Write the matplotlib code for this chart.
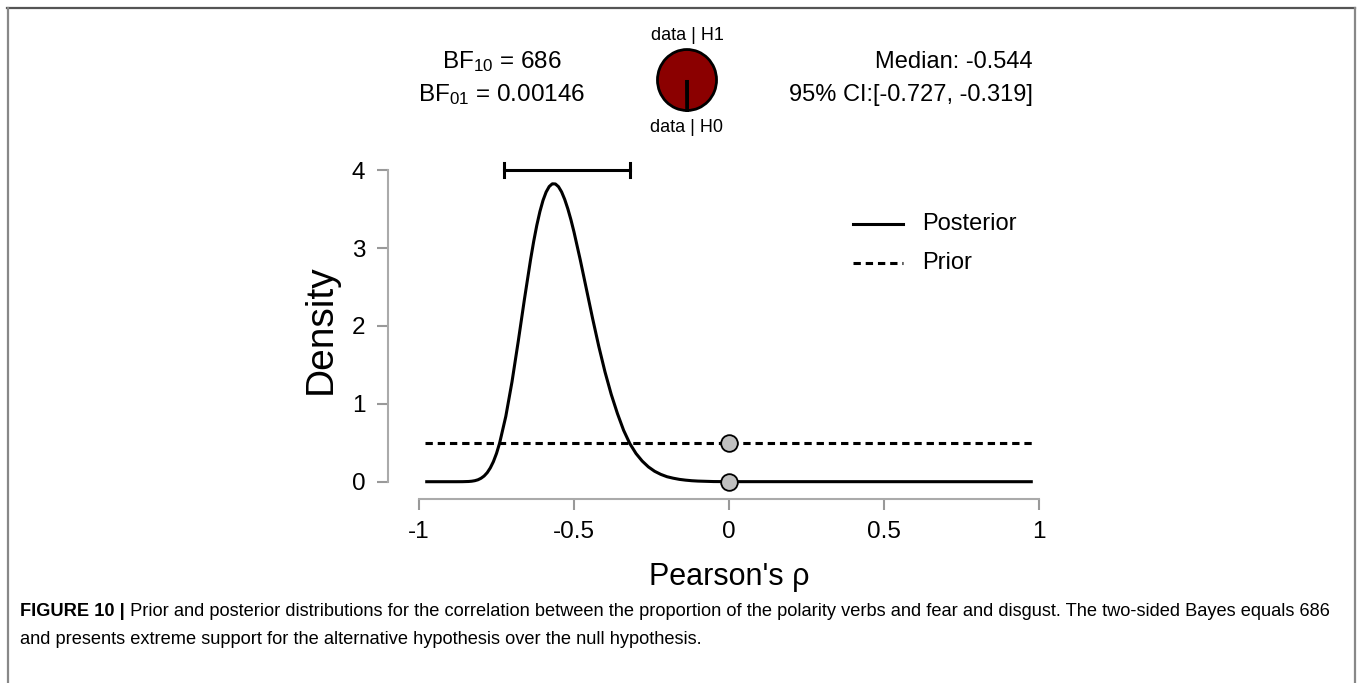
import matplotlib
matplotlib.use("Agg")
import matplotlib.pyplot as plt
from matplotlib.lines import Line2D

plt.rcParams['font.family'] = ['Liberation Sans', 'DejaVu Sans']
plt.rcParams['mathtext.fontset'] = 'custom'
plt.rcParams['mathtext.rm'] = 'Liberation Sans'
plt.rcParams['mathtext.it'] = 'Liberation Sans'
plt.rcParams['mathtext.bf'] = 'Liberation Sans:bold'

# ---------------- data ----------------
post_x = [-0.98, -0.95, -0.90, -0.88, -0.86, -0.84, -0.83, -0.82, -0.81, -0.80,
          -0.79, -0.78, -0.77, -0.76, -0.75, -0.74, -0.72, -0.70,
          -0.68, -0.66, -0.64, -0.63, -0.62, -0.61, -0.60, -0.59, -0.58, -0.57,
          -0.56, -0.55, -0.54, -0.53, -0.52, -0.51, -0.50, -0.48, -0.46, -0.44,
          -0.42, -0.40, -0.38, -0.36, -0.34, -0.32, -0.30, -0.28, -0.26, -0.24,
          -0.22, -0.20, -0.18, -0.16, -0.14, -0.12, -0.10, -0.05, 0.00, 0.98]
post_y = [0.0, 0.0, 0.0, 0.0, 0.0004, 0.0028, 0.0063, 0.013, 0.0245, 0.044,
          0.073, 0.116, 0.177, 0.258, 0.363, 0.495, 0.839, 1.283,
          1.799, 2.340, 2.854, 3.086, 3.292, 3.468, 3.611, 3.718, 3.789, 3.824,
          3.822, 3.787, 3.720, 3.624, 3.504, 3.364, 3.205, 2.851, 2.473, 2.095,
          1.736, 1.409, 1.122, 0.876, 0.660, 0.490, 0.362, 0.265, 0.190, 0.134,
          0.094, 0.064, 0.045, 0.030, 0.020, 0.0126, 0.008, 0.002, 0.0007, 0.0]
prior_x = [-0.98, 0.98]
prior_y = [0.5, 0.5]
point_x = [0.0, 0.0]
point_y = [0.5, 0.0007]
ci_low, ci_high, ci_y = -0.727, -0.319, 4.0
bf10, bf01 = 686, 0.00146
median = -0.544
x_ticks = [-1, -0.5, 0, 0.5, 1]
x_ticklabels = ['-1', '-0.5', '0', '0.5', '1']
y_ticks = [0, 1, 2, 3, 4]
legend_labels = ['Posterior', 'Prior']

W, H = 1358, 683
fig = plt.figure(figsize=(W / 100, H / 100), dpi=100)

def fx(px):
    return px / W

def fy(py):
    return 1 - py / H

# ---------------- frame ----------------
fig.add_artist(Line2D([fx(7), fx(1355)], [fy(8), fy(8)], color='#555555', lw=1.6))
fig.add_artist(Line2D([fx(7.5), fx(7.5)], [fy(8), fy(690)], color='#888888', lw=1.6))
fig.add_artist(Line2D([fx(1354.5), fx(1354.5)], [fy(8), fy(690)], color='#888888', lw=1.6))

# ---------------- main axes ----------------
xl = (-1.101, 1.10)
yl = (-0.222, 4.2)
left_px, right_px = 387.7, 729 + 310 * xl[1]
bottom_px = 499.0
top_px = 481.7 - 77.9 * yl[1]
ax = fig.add_axes([fx(left_px), fy(bottom_px), (right_px - left_px) / W, (bottom_px - top_px) / H])
ax.set_xlim(*xl)
ax.set_ylim(*yl)
ax.patch.set_alpha(0)
for s in ['top', 'right']:
    ax.spines[s].set_visible(False)
ax.spines['left'].set_bounds(0, 4)
ax.spines['bottom'].set_bounds(-1, 1)
for s in ['left', 'bottom']:
    ax.spines[s].set_color('#aaaaaa')
    ax.spines[s].set_linewidth(1.5)
ax.set_xticks(x_ticks)
ax.set_xticklabels(x_ticklabels)
ax.set_yticks(y_ticks)
ax.tick_params(axis='both', direction='out', length=8, width=1.5, color='#999999',
               labelsize=17.5, labelcolor='black')
ax.tick_params(axis='x', pad=8)
ax.tick_params(axis='y', pad=8)

post_line, = ax.plot(post_x, post_y, color='black', lw=2.2, solid_capstyle='butt')
prior_line, = ax.plot(prior_x, prior_y, color='black', lw=2.2, dashes=(2.4, 1.6))
ax.plot(point_x, point_y, 'o', ms=12, mfc='#c0c0c0', mec='black', mew=1.3, zorder=5)

# credible interval bar
ax.plot([ci_low, ci_high], [ci_y, ci_y], color='black', lw=2.2, clip_on=False)
ax.plot([ci_low, ci_low], [ci_y - 0.09, ci_y + 0.09], color='black', lw=2.2, clip_on=False)
ax.plot([ci_high, ci_high], [ci_y - 0.09, ci_y + 0.09], color='black', lw=2.2, clip_on=False)

ax.set_xlabel("Pearson's ρ", fontsize=22)
ax.xaxis.set_label_coords(0.5, (bottom_px - 577) / (bottom_px - top_px))
ax.xaxis.label.set_va('center')
ax.set_ylabel('Density', fontsize=28)
ax.yaxis.set_label_coords((321 - left_px) / (right_px - left_px), (bottom_px - 329) / (bottom_px - top_px))
ax.yaxis.label.set_va('center')

# legend (drawn by hand to match the reference spacing)
for i, lab in enumerate(legend_labels):
    yy = [224, 263][i]
    ln = Line2D([fx(853), fx(903)], [fy(yy), fy(yy)], color='black', lw=2.2)
    if i == 1:
        ln.set_dashes((2.4, 1.6))
    fig.add_artist(ln)
    fig.text(fx(922), fy(yy), lab, ha='left', va='center', fontsize=17)

# ---------------- top annotations ----------------
fig.text(fx(502), fy(62), r'BF$_{10}$ = %d' % bf10, ha='center', va='center', fontsize=17.5)
fig.text(fx(502), fy(95), r'BF$_{01}$ = %s' % ('%.5f' % bf01), ha='center', va='center', fontsize=17.5)
fig.text(fx(1033), fy(62), 'Median: %.3f' % median, ha='right', va='center', fontsize=17)
fig.text(fx(1033), fy(95), '95%% CI:[%.3f, %.3f]' % (ci_low, ci_high), ha='right', va='center', fontsize=17)
fig.text(fx(687), fy(35), 'data | H1', ha='center', va='center', fontsize=13)
fig.text(fx(687), fy(128), 'data | H0', ha='center', va='center', fontsize=13)

rx, ry = 31, 32
pax = fig.add_axes([fx(687 - rx), fy(80 + ry), 2 * rx / W, 2 * ry / H])
pax.pie([bf10, 1], colors=['#8b0000', 'white'], startangle=-90, counterclock=False,
        wedgeprops=dict(edgecolor='black', linewidth=2.0))
pax.set_xlim(-1.05, 1.05)
pax.set_ylim(-1.05, 1.05)
pax.set_aspect('auto')
pax.axis('off')

# ---------------- caption ----------------
renderer = fig.canvas.get_renderer()
cap_fs = 12.5
t_bold = fig.text(fx(20), fy(611), 'FIGURE 10 |', fontsize=cap_fs, fontweight='bold', va='center', ha='left')
bb = t_bold.get_window_extent(renderer)
rest1 = (' Prior and posterior distributions for the correlation between the proportion of the polarity '
         'verbs and fear and disgust. The two-sided Bayes equals 686')
t1 = fig.text(bb.x1 / W, fy(611), rest1, fontsize=cap_fs, va='center', ha='left')
bb1 = t1.get_window_extent(renderer)
scale = (1337 - 20) / (bb1.x1 - bb.x0)
cap_fs2 = cap_fs * scale
t_bold.set_fontsize(cap_fs2)
bb = t_bold.get_window_extent(renderer)
t1.set_fontsize(cap_fs2)
t1.set_x(bb.x1 / W)
fig.text(fx(20), fy(639), 'and presents extreme support for the alternative hypothesis over the null hypothesis.',
         fontsize=cap_fs2, va='center', ha='left')

fig.savefig('out.png', dpi=100)
